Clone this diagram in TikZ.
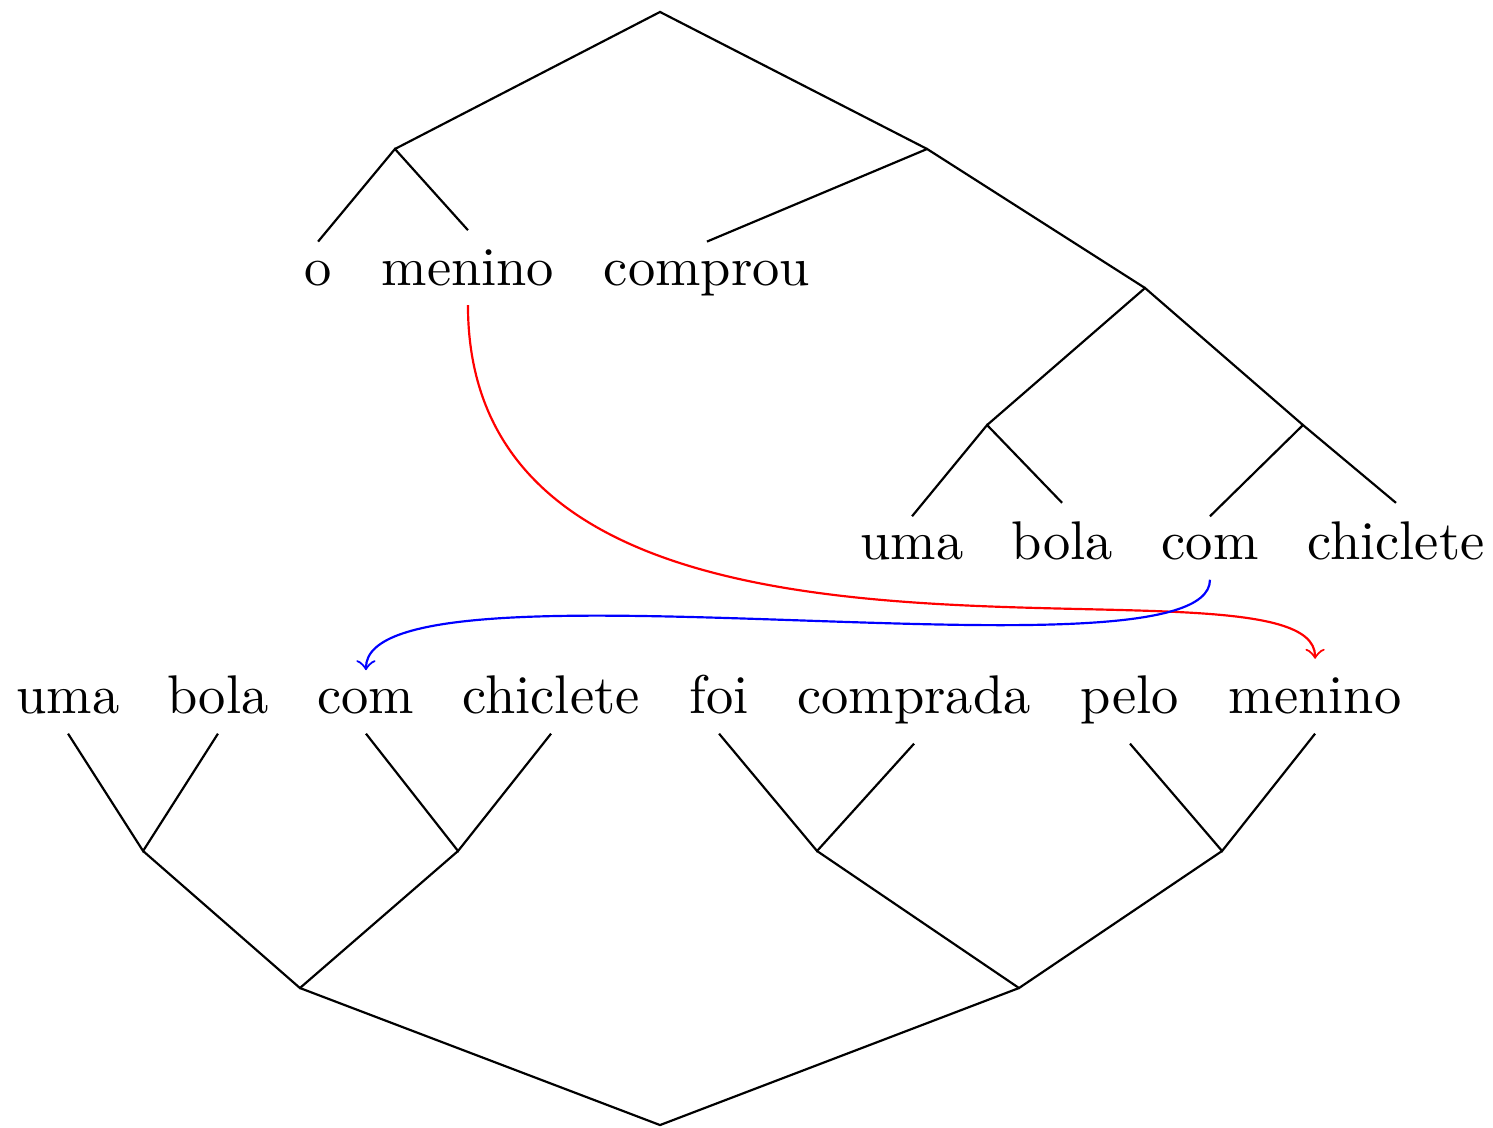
\documentclass[tikz,border=0pt]{standalone}
\begin{document}
\begin{tikzpicture}[w/.style={anchor=base}]
  \useasboundingbox (0,0) rectangle (9.632,-7.277);
  % upper tree: words
  \node[w] (o) at (2.052,-1.840) {o};
  \node[w] (men) at (3.019,-1.840) {menino};
  \node[w] (comp) at (4.561,-1.840) {comprou};
  \node[w] (uma) at (5.884,-3.612) {uma};
  \node[w] (bola) at (6.852,-3.612) {bola};
  \node[w] (com) at (7.806,-3.612) {com};
  \node[w] (chic) at (9.006,-3.612) {chiclete};
  % upper tree: branching points
  \coordinate (r) at (4.258,-0.077);
  \coordinate (a) at (2.548,-0.961);
  \coordinate (b) at (5.981,-0.961);
  \coordinate (c) at (7.387,-1.858);
  \coordinate (d) at (6.368,-2.742);
  \coordinate (e) at (8.406,-2.742);
  \draw (a) -- (r) -- (b);
  \draw (o.north) -- (a) -- (men.north);
  \draw (comp.north) -- (b) -- (c);
  \draw (d) -- (c) -- (e);
  \draw (uma.north) -- (d) -- (bola.north);
  \draw (com.north) -- (e) -- (chic.north);
  % lower tree: words
  \node[w] (uma2) at (0.439,-4.605) {uma};
  \node[w] (bola2) at (1.406,-4.605) {bola};
  \node[w] (com2) at (2.361,-4.605) {com};
  \node[w] (chic2) at (3.555,-4.605) {chiclete};
  \node[w] (foi) at (4.639,-4.605) {foi};
  \node[w] (compd) at (5.897,-4.605) {comprada};
  \node[w] (pelo) at (7.290,-4.605) {pelo};
  \node[w] (men2) at (8.484,-4.605) {menino};
  % lower tree: branching points
  \coordinate (f) at (0.923,-5.490);
  \coordinate (g) at (2.955,-5.490);
  \coordinate (h) at (5.271,-5.490);
  \coordinate (i) at (7.884,-5.490);
  \coordinate (j) at (1.935,-6.374);
  \coordinate (k) at (6.574,-6.374);
  \coordinate (s) at (4.258,-7.258);
  \draw (uma2.south) -- (f) -- (bola2.south);
  \draw (com2.south) -- (g) -- (chic2.south);
  \draw (foi.south) -- (h) -- (compd.south);
  \draw (pelo.south) -- (i) -- (men2.south);
  \draw (f) -- (j) -- (g);
  \draw (h) -- (k) -- (i);
  \draw (j) -- (s) -- (k);
  % movement
  \draw[->, red] (men.south) .. controls +(0,-2.85) and +(0,0.8) .. (men2.north);
  \draw[->, blue] (com.south) .. controls +(0,-0.72) and +(0,0.8) .. (com2.north);
\end{tikzpicture}
\end{document}
